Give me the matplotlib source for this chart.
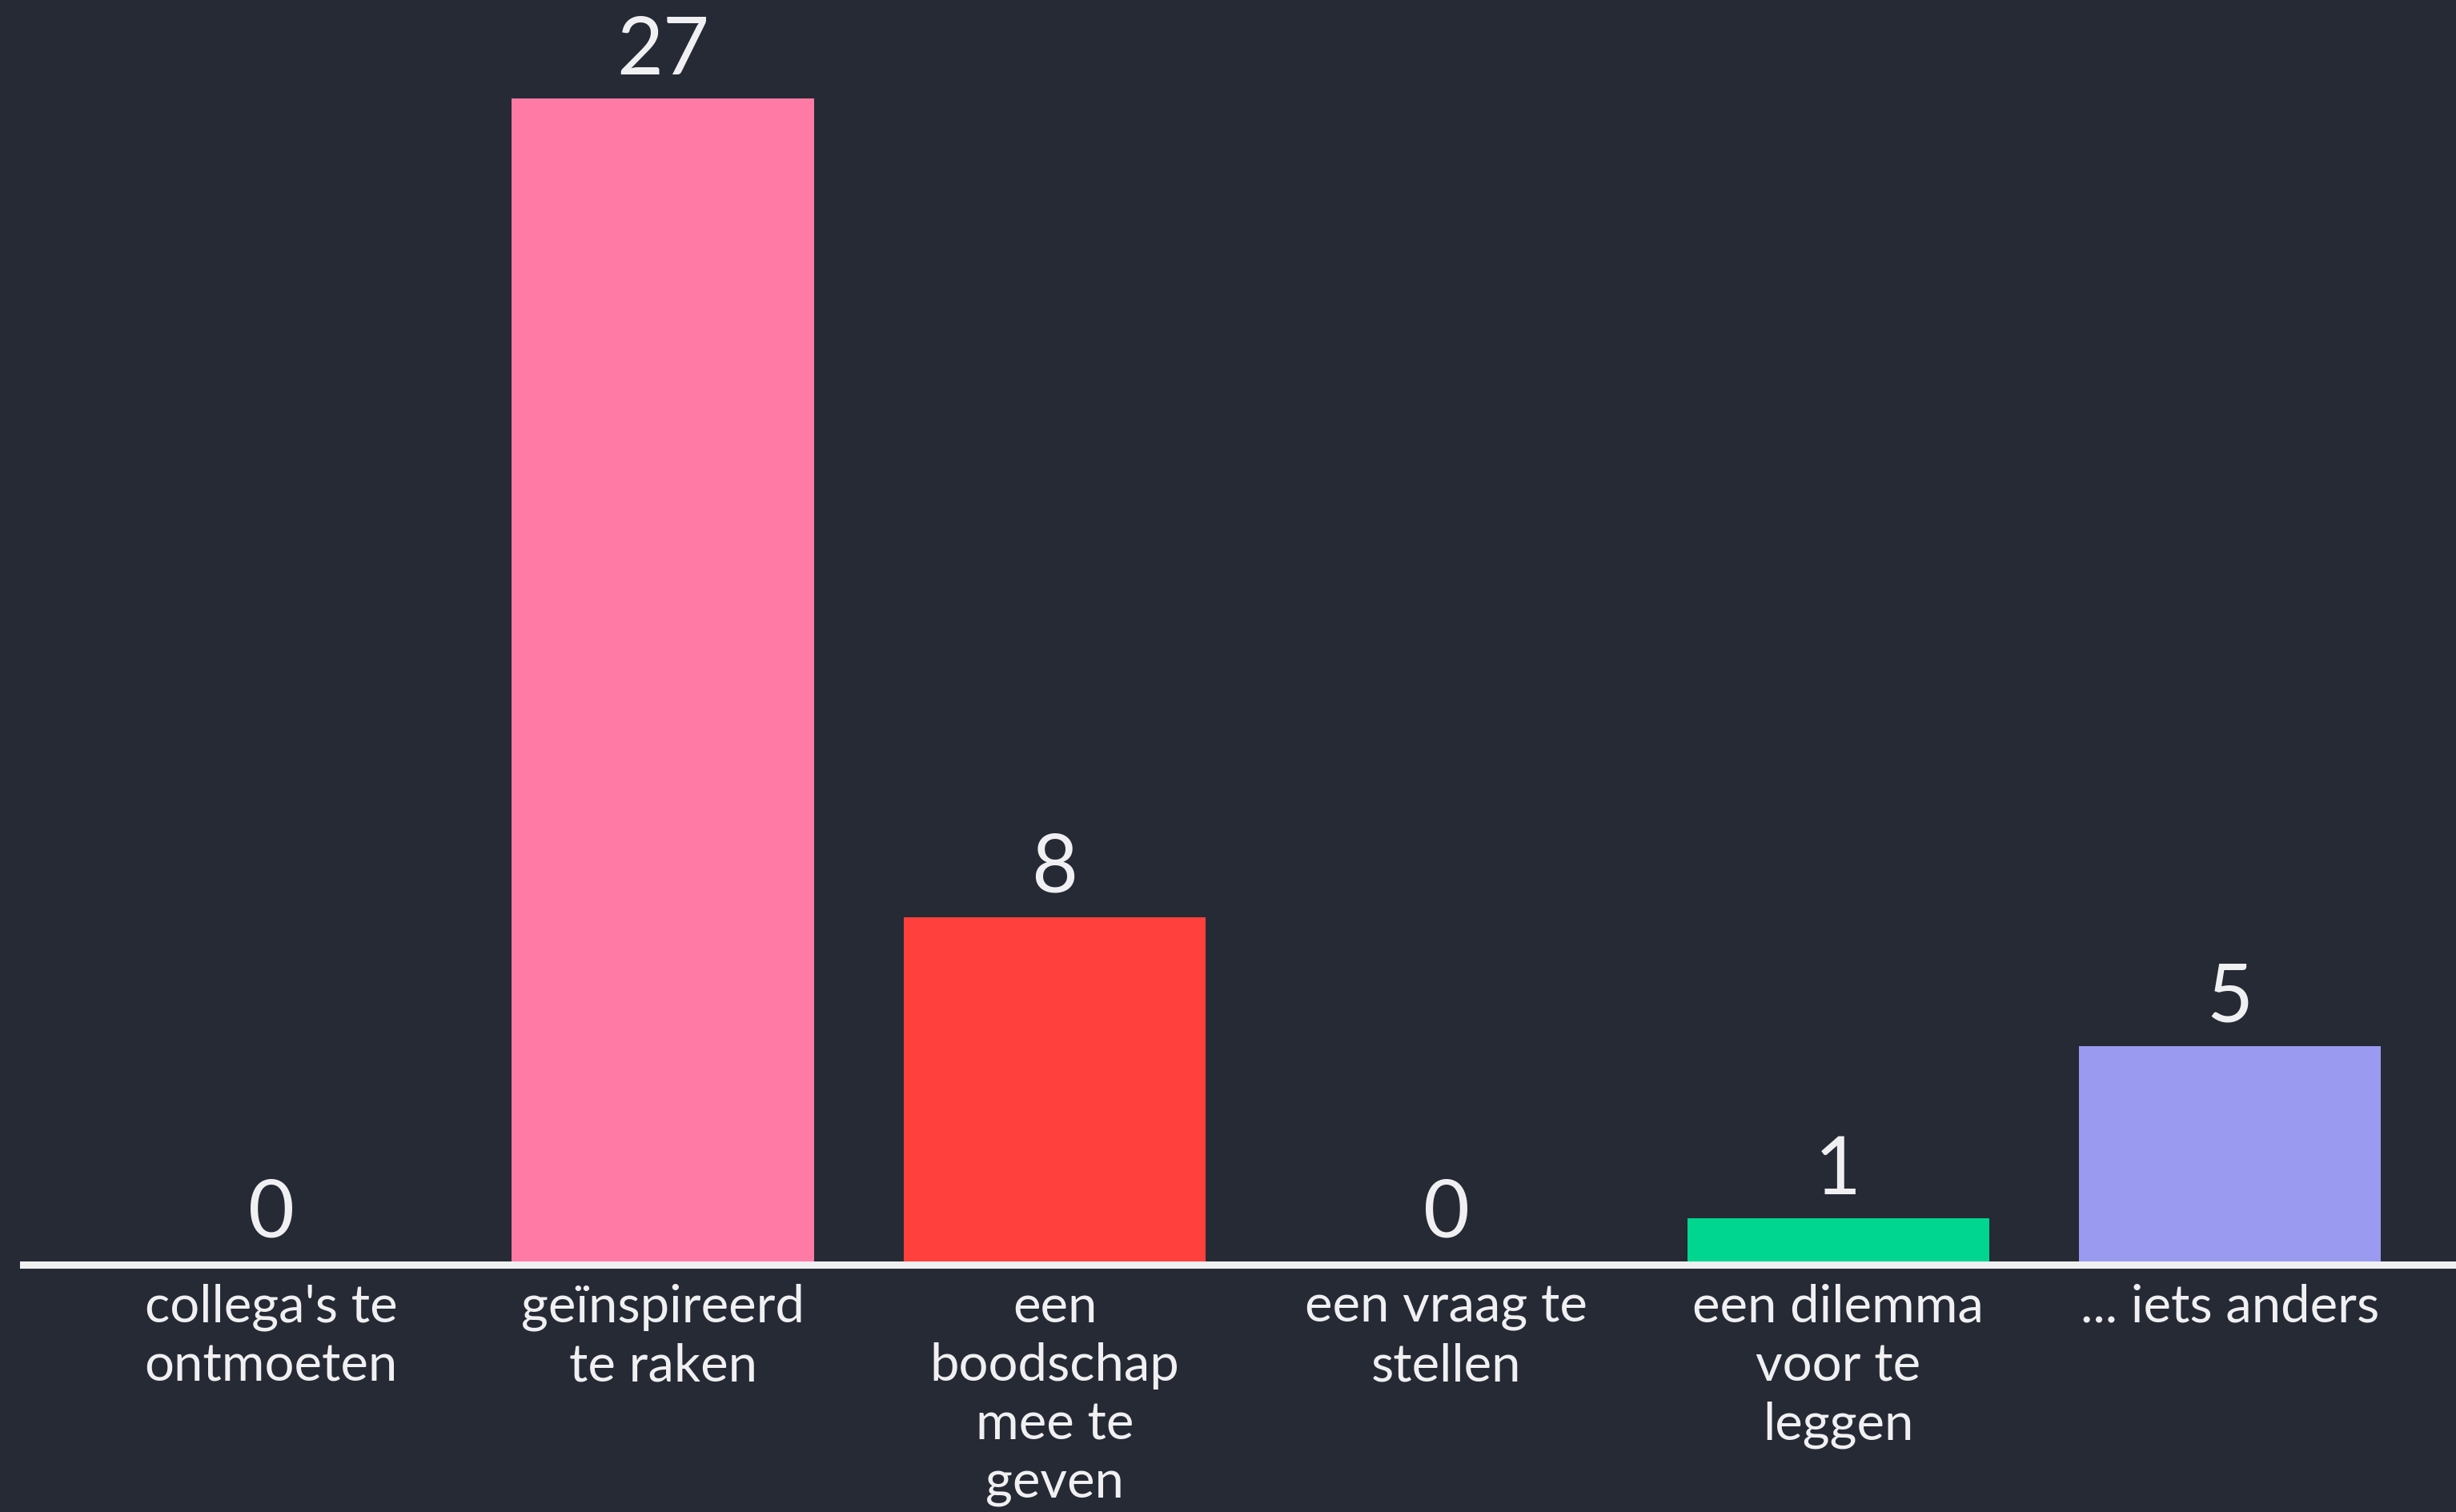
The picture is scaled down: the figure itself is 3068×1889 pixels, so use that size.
import matplotlib
matplotlib.use("Agg")
import matplotlib.pyplot as plt

# data
categories = [
    "collega's te\nontmoeten",
    "geïnspireerd\nte raken",
    "een\nboodschap\nmee te\ngeven",
    "een vraag te\nstellen",
    "een dilemma\nvoor te\nleggen",
    "... iets anders",
]
values = [0, 27, 8, 0, 1, 5]
colors = ["#5b63d3", "#ff7ba6", "#ff403c", "#f5c744", "#00d68f", "#9a9af0"]

bg = "#262a35"
fg = "#f0f0f2"

plt.rcParams["font.family"] = ["Lato", "DejaVu Sans"]

fig = plt.figure(figsize=(30.68, 18.89), dpi=100, facecolor=bg)
ax = fig.add_axes([29 / 3068, 313 / 1889, 1 - 29 / 3068, 1 - 313 / 1889])
ax.set_facecolor(bg)

x = list(range(len(values)))
ax.bar(x, values, width=0.771, color=colors, zorder=3)
ax.set_xlim(-0.633, 5.577)
ax.set_ylim(0, 29.29)

# baseline
ax.axhline(-0.07, color=fg, lw=6.5, zorder=2, clip_on=False)

# value labels
for i, v in enumerate(values):
    ax.annotate(str(v), (i, v), xytext=(0, 22), textcoords="offset points",
                ha="center", va="baseline", fontsize=72, color=fg)

# category labels
for i, c in enumerate(categories):
    ax.annotate(c, (i, 0), xytext=(0, -20), textcoords="offset points",
                ha="center", va="top", fontsize=47, color=fg,
                linespacing=1.3, annotation_clip=False)

ax.axis("off")

fig.savefig("out.png", dpi=100, facecolor=bg)
